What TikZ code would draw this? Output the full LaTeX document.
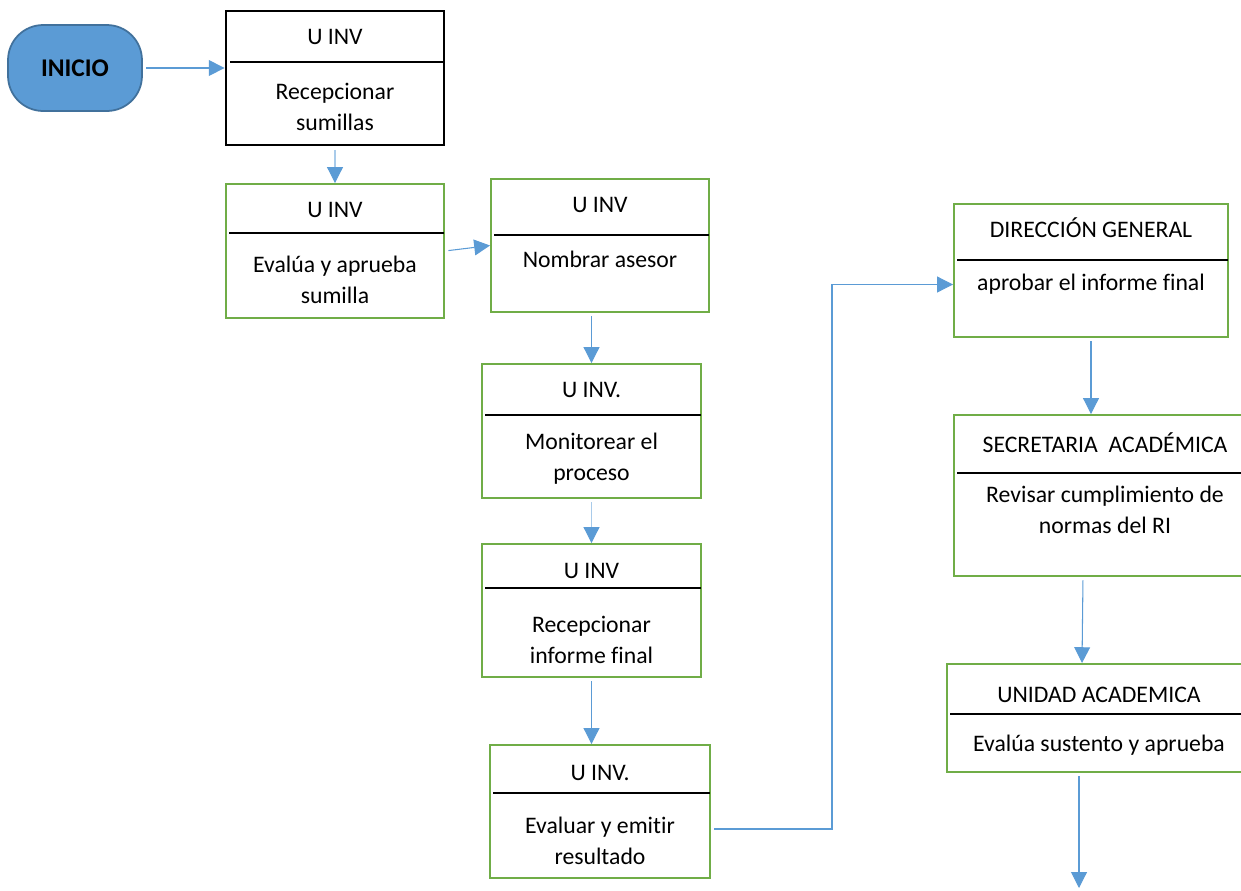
\documentclass[tikz,border=0pt]{standalone}
\usepackage{fontspec}
\setmainfont{Carlito}[Ligatures=NoCommon]
\usetikzlibrary{arrows.meta}
\definecolor{boxgreen}{HTML}{70AD47}
\definecolor{flowblue}{HTML}{5B9BD5}
\definecolor{paleblue}{HTML}{A9CBEA}
\definecolor{startedge}{HTML}{41719C}

\begin{document}
\begin{tikzpicture}[x=0.02cm, y=-0.02cm, every node/.style={font=\fontsize{13.5}{17.6}\selectfont},
    start node/.style={draw=startedge, fill=flowblue, line width=1pt, rounded corners=20pt, minimum width=2.68cm, minimum height=1.72cm, font=\fontsize{14.5}{17}\selectfont\bfseries},
    black box/.style={draw, line width=1.6pt, minimum width=4.36cm, minimum height=2.68cm},
    green box/.style={draw=boxgreen, line width=1.1pt},
    boxtext/.style={align=center, inner sep=0pt},
    divider/.style={line width=0.6pt},
    flow/.style={draw=flowblue, line width=0.6pt, shorten <=2pt, -{Triangle[length=9pt, width=9pt]}},
    pale flow/.style={flow, draw=paleblue, -{Triangle[length=9pt, width=9pt, color=flowblue]}}]
\clip (0,0) rectangle (1241,890);
\node[start node] (inicio) at (75,68) {INICIO};
\node[black box] (recep) at (335,78) {};
\node[boxtext] (recep-t) at (335,37) {U INV};
\node[boxtext] (recep-b) at (335,106.5) {Recepcionar\\sumillas};
\draw[divider] (230,62) -- (444,62);
\foreach \n/\cx/\cy/\w/\h/\ty/\dy/\by/\t/\b in {
    evalua/335/251/218/134/210/233/279.5/{U INV}/{Evalúa y aprueba\\sumilla},
    nombrar/600/245.5/218/133/205/235/259/{U INV}/{Nombrar asesor},
    monitor/591.5/431/219/134/390/415/458.5/{U INV.}/{Monitorear el\\proceso},
    recinf/591.5/610.5/219/133/571/588/639.5/{U INV}/{Recepcionar\\informe final},
    evalres/600/811.5/220/133/773/793/840.5/{U INV.}/{Evaluar y emitir\\resultado},
    aprobar/1091/270.5/274/133/228/260/284/{DIRECCIÓN GENERAL}/{aprobar el informe final},
    secre/1105/495.5/302/161/443/473/510/{SECRETARIA\ \ ACADÉMICA}/{Revisar cumplimiento de\\normas del RI},
    unidad/1099/718/304/108/695/714/745/{UNIDAD ACADEMICA}/{Evalúa sustento y aprueba}}{
    \node[green box, minimum width={\w*0.02cm}, minimum height={\h*0.02cm}] (\n) at (\cx,\cy) {};
    \node[boxtext] (\n-t) at (\cx,\ty) {\t};
    \node[boxtext] (\n-b) at (\cx,\by) {\b};
    \draw[divider] ({\cx-\w/2+3},\dy) -- ({\cx+\w/2},\dy);}
\draw[flow] (inicio.east) -- (recep.west |- inicio.east);
\draw[pale flow] (recep.south) -- (evalua.north);
\draw[flow] (evalua.east) -- (nombrar.west);
\draw[flow] (monitor.north |- nombrar.south) -- (monitor.north);
\draw[pale flow] (monitor.south) -- (recinf.north);
\draw[flow] (recinf.south) -- (recinf.south |- evalres.north);
\coordinate (turn) at (832,829);
\draw[flow] (evalres.east |- turn) -- (turn) |- ([yshift=-0.28cm]aprobar.west);
\draw[flow] (aprobar.south) -- (secre.north -| aprobar.south);
\draw[flow] ([xshift=-0.44cm]secre.south) -- ([xshift=-0.34cm]unidad.north);
\coordinate (fin) at (1079,888);
\draw[flow] (fin |- unidad.south) -- (fin);
\end{tikzpicture}
\end{document}
